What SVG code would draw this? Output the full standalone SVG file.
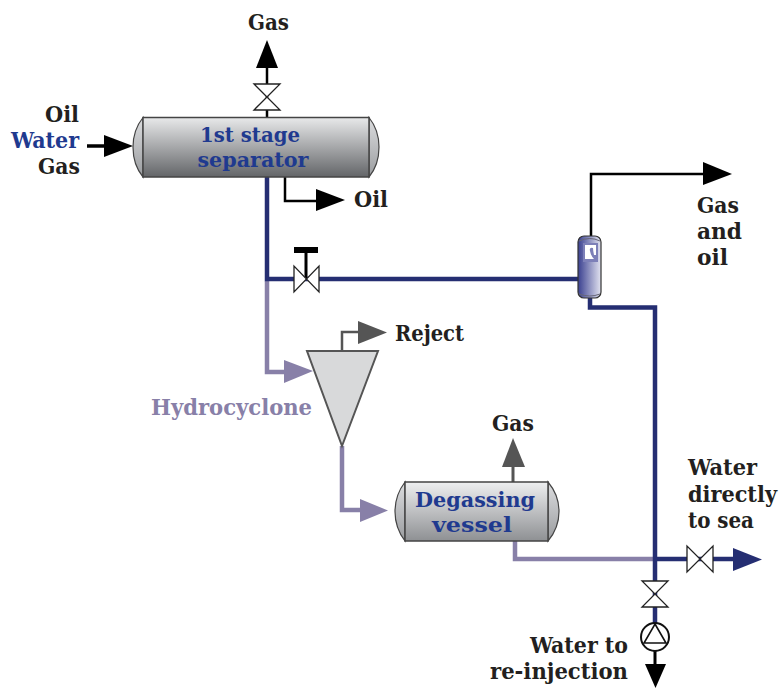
<svg xmlns="http://www.w3.org/2000/svg" width="779" height="688" viewBox="0 0 779 688">
<style>
text{font-family:"DejaVu Serif Condensed","DejaVu Serif","Liberation Serif",serif;font-stretch:condensed;font-weight:700;font-size:22px;fill:#231f20}
.b{fill:#1f3a8f}.p{fill:#8880a8}
.t{font-size:21px}
.l{fill:none;stroke-linejoin:miter}
.navy{stroke:#252e72;stroke-width:4.5}.pur{stroke:#8880a8;stroke-width:4.5}
.blk{stroke:#000;stroke-width:2.5}.gry{stroke:#555;stroke-width:2.5}
.v{fill:#fff;stroke:#222;stroke-width:1.3}
.cap{stroke:#444;stroke-width:1.2}
</style>
<defs>
<linearGradient id="g" x1="0" y1="0" x2="0" y2="1"><stop offset="0" stop-color="#e8e9ea"/><stop offset="1" stop-color="#636568"/></linearGradient>
<linearGradient id="g2" x1="0" y1="0" x2="0" y2="1"><stop offset="0" stop-color="#eeeff0"/><stop offset="1" stop-color="#8e9093"/></linearGradient>
<linearGradient id="gc" x1="0" y1="0" x2="0" y2="1"><stop offset="0" stop-color="#dcdddf"/><stop offset="1" stop-color="#9a9c9f"/></linearGradient>
<linearGradient id="gb" x1="0" y1="0" x2="1" y2="0"><stop offset="0" stop-color="#3a4090"/><stop offset="1" stop-color="#e2e3f0"/></linearGradient>
</defs>
<g id="connectors">
<path class="l blk" d="M267 117V68"/><path d="M267 40L278 68H256Z"/>
<path class="l blk" d="M87 146H106" style="stroke-width:3.5"/><path d="M104 135L133 146L104 157Z"/>
<path class="l blk" d="M285 177V201H318"/><path d="M316 189L345 200L316 211Z"/>
<path class="l pur" d="M267 281V372H286"/><path fill="#8880a8" d="M284 360L313 371L284 383Z"/>
<path class="l navy" d="M267 177V279H580"/>
<path class="l gry" d="M342 351V332H360"/><path fill="#555" d="M358 321L387 332.500L358 344Z"/>
<path class="l pur" d="M342 446V510H362"/><path fill="#8880a8" d="M360 499L388 510.500L360 522Z"/>
<path class="l gry" d="M513 482V465" style="stroke-width:3"/><path fill="#555" d="M513 438L525 467H502Z"/>
<path class="l pur" d="M515 541V559H655"/>
<path class="l navy" d="M590 297V307.500H655V625"/>
<path class="l navy" d="M655 559H735"/><path fill="#252e72" d="M733 548L762 559.500L733 571Z"/>
<path class="l blk" d="M591 237V174H705"/><path d="M703 162L732 174L703 185Z"/>
<path class="l blk" d="M655 650V666" style="stroke-width:3"/><path d="M645 664H666L655.500 688Z"/>
</g>
<g id="valve-gas"><path class="v" d="M254 84H280L254 110H280Z"/></g>
<g id="valve-bypass">
<path d="M306 252V279" stroke="#000" stroke-width="3"/><rect x="294" y="247" width="24" height="6"/>
<path class="v" d="M294 266V292L319 266V292Z"/></g>
<g id="valve-sea"><path class="v" d="M687 546V572L713 546V572Z"/></g>
<g id="valve-inject"><path class="v" d="M642 581H668L642 607H668Z"/></g>
<g id="pump"><circle cx="655" cy="637" r="14" fill="#fff" stroke="#111" stroke-width="2"/><path d="M655 624L666 643H644Z" fill="none" stroke="#111" stroke-width="1.6"/></g>
<g id="separator">
<path class="cap" fill="url(#gc)" d="M143 117.500Q133 130 133 147Q133 165 143 177Z"/>
<path class="cap" fill="url(#gc)" d="M369 117.500Q379 130 379 147Q379 165 369 177Z"/>
<rect fill="url(#g)" stroke="#444" stroke-width="1.500" x="143" y="117.500" width="226" height="59.500"/>
<text class="b t" x="250" y="142" text-anchor="middle" textLength="100" lengthAdjust="spacingAndGlyphs">1st stage</text>
<text class="b t" x="253" y="167" text-anchor="middle" textLength="111" lengthAdjust="spacingAndGlyphs">separator</text>
</g>
<g id="scrubber">
<rect x="578" y="236" width="23" height="62" rx="6" fill="url(#gb)" stroke="#333" stroke-width="1.2"/>
<path d="M579 241Q590 236 600 241" fill="none" stroke="#667" stroke-width="1"/>
<path d="M579 294Q590 298 600 294" fill="none" stroke="#667" stroke-width="1"/>
<rect x="583" y="243" width="15" height="19" fill="#7d80b8"/>
<path d="M585 259V245H596V255H594Q593 250 593 248Q589 247 590 251Q591 256 594 259Z" fill="#fff"/>
</g>
<g id="hydrocyclone"><path d="M307 351H378L342 446Z" fill="#d8d9da" stroke="#555" stroke-width="2"/></g>
<g id="degasser">
<path class="cap" fill="url(#gc)" d="M405 482Q395 495 395 511.500Q395 528 405 541Z"/>
<path class="cap" fill="url(#gc)" d="M548 482Q559 495 559 511.500Q559 528 548 541Z"/>
<rect fill="url(#g2)" stroke="#444" stroke-width="1.500" x="405" y="482" width="143" height="59"/>
<text class="b t" x="475" y="507" text-anchor="middle" textLength="120" lengthAdjust="spacingAndGlyphs">Degassing</text>
<text class="b t" x="472" y="532" text-anchor="middle" textLength="80" lengthAdjust="spacingAndGlyphs">vessel</text>
</g>
<g id="labels">
<text x="248" y="30" textLength="41" lengthAdjust="spacingAndGlyphs">Gas</text>
<text x="45" y="122" textLength="34" lengthAdjust="spacingAndGlyphs">Oil</text>
<text class="b" x="11" y="148" textLength="68" lengthAdjust="spacingAndGlyphs">Water</text>
<text x="38" y="174" textLength="42" lengthAdjust="spacingAndGlyphs">Gas</text>
<text x="354" y="207" textLength="34" lengthAdjust="spacingAndGlyphs">Oil</text>
<text x="395" y="341" textLength="69" lengthAdjust="spacingAndGlyphs">Reject</text>
<text class="p" x="151" y="415" textLength="161" lengthAdjust="spacingAndGlyphs">Hydrocyclone</text>
<text x="492" y="431" textLength="42" lengthAdjust="spacingAndGlyphs">Gas</text>
<text x="697" y="213" textLength="42" lengthAdjust="spacingAndGlyphs">Gas</text>
<text x="697" y="239" textLength="45" lengthAdjust="spacingAndGlyphs">and</text>
<text x="697" y="265" textLength="31" lengthAdjust="spacingAndGlyphs">oil</text>
<text x="688" y="475" textLength="69" lengthAdjust="spacingAndGlyphs">Water</text>
<text x="688" y="502" textLength="89" lengthAdjust="spacingAndGlyphs">directly</text>
<text x="688" y="528" textLength="66" lengthAdjust="spacingAndGlyphs">to sea</text>
<text x="530" y="653" textLength="98" lengthAdjust="spacingAndGlyphs">Water to</text>
<text x="490" y="679" textLength="138" lengthAdjust="spacingAndGlyphs">re-injection</text>
</g>
</svg>
